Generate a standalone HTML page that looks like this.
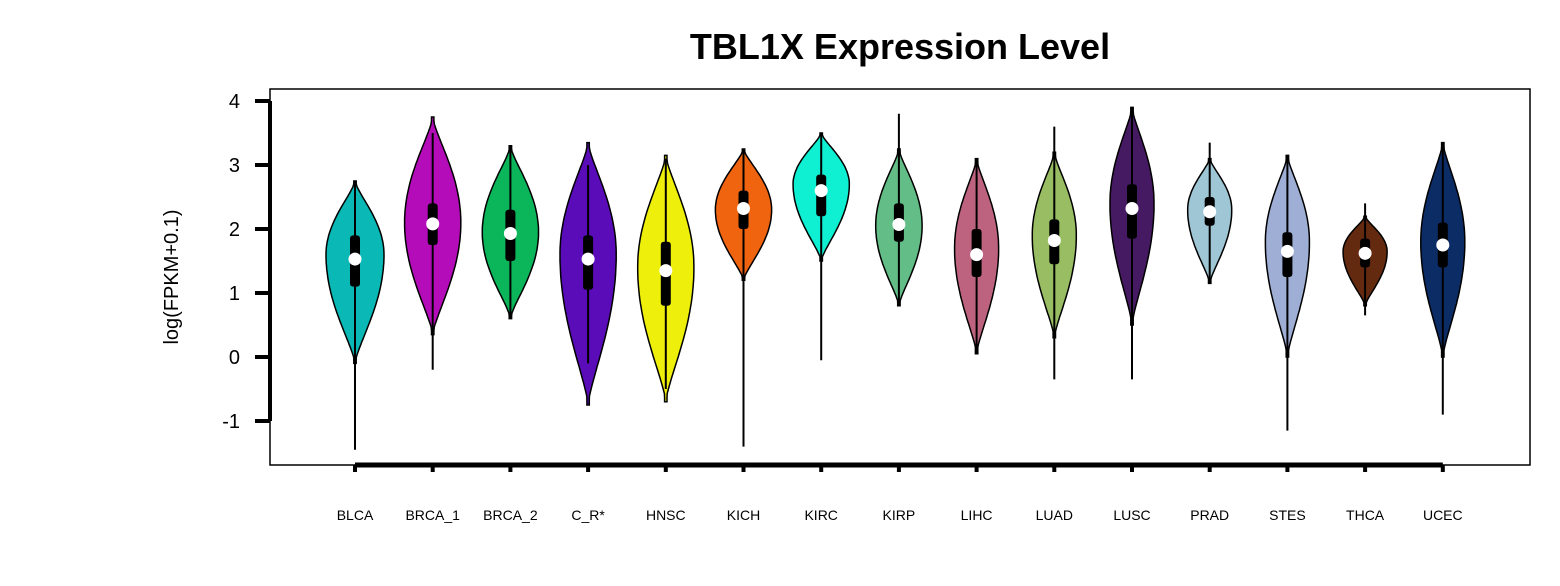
<!DOCTYPE html>
<html><head><meta charset="utf-8"><style>
body{margin:0;background:#fff;}
svg{display:block;font-family:"Liberation Sans",Arial,sans-serif;}
</style></head><body>
<svg id="chart" width="1560" height="586">
<text x="900" y="59" text-anchor="middle" font-size="36" font-weight="bold">TBL1X Expression Level</text>
<rect x="270" y="89" width="1260" height="376" fill="none" stroke="#000" stroke-width="1.5"/>
<text transform="translate(178,277) rotate(-90)" text-anchor="middle" font-size="20">log(FPKM+0.1)</text>
<g id="yaxis"></g>
<g id="xaxis"></g>
<g id="violins"></g>
</svg>
<script>
const categories=["BLCA","BRCA_1","BRCA_2","C_R*","HNSC","KICH","KIRC","KIRP","LIHC","LUAD","LUSC","PRAD","STES","THCA","UCEC"];
const colors=["#0ab8b5","#b40cb8","#0bb55a","#5a0cb8","#eef00c","#f0630f","#0ff0d2","#62bd86","#bd6380","#98bd62","#461a62","#9ec6d4","#9eaed4","#642a10","#0c2c66"];
const medians=[1.53,2.08,1.93,1.53,1.35,2.32,2.6,2.07,1.6,1.82,2.32,2.27,1.65,1.62,1.75];
const q1s=[1.1,1.75,1.5,1.05,0.8,2.0,2.2,1.8,1.25,1.45,1.85,2.05,1.25,1.4,1.4];
const q3s=[1.9,2.4,2.3,1.9,1.8,2.6,2.85,2.4,2.0,2.15,2.7,2.5,1.95,1.85,2.1];
const whiskerLo=[-1.45,-0.2,0.6,-0.1,-0.5,-1.4,-0.05,0.8,0.05,-0.35,-0.35,1.15,-1.15,0.65,-0.9];
const whiskerHi=[2.75,3.5,3.3,3.0,3.1,3.25,3.5,3.8,3.1,3.6,3.9,3.35,3.15,2.4,3.35];
const shapeTop=[2.75,3.75,3.3,3.35,3.15,3.25,3.5,3.25,3.1,3.2,3.9,3.1,3.15,2.2,3.35];
const shapeBottom=[-0.1,0.35,0.6,-0.75,-0.7,1.2,1.5,0.8,0.05,0.3,0.5,1.15,0.0,0.8,0.0];
const peaks=[1.6,2.1,1.95,1.6,1.4,2.3,2.7,2.05,1.7,1.9,2.4,2.3,1.8,1.65,1.8];
const density=[1.0,0.97,0.97,0.97,0.97,0.97,0.97,0.8,0.76,0.76,0.76,0.76,0.76,0.76,0.76];
const yTicks=[4,3,2,1,0,-1];
const NS="http://www.w3.org/2000/svg";
const y=v=>357-v*64;
const x=i=>355+i*77.7;
const MAXW=29;
function mk(tag,attrs,parent){const e=document.createElementNS(NS,tag);for(const k in attrs)e.setAttribute(k,attrs[k]);parent.appendChild(e);return e;}
const ya=document.getElementById('yaxis');
let l=mk('line',{x1:270,x2:270,y1:y(4),y2:y(-1),stroke:'#000','stroke-width':4},ya);


yTicks.forEach(t=>{
 const tk=mk('line',{x1:255,x2:270,y1:y(t),y2:y(t),stroke:'#000','stroke-width':4},ya);
 
 
 const tx=mk('text',{x:240,y:y(t)+7,'text-anchor':'end','font-size':20},ya);
 tx.textContent=t;
 
 
});
const xa=document.getElementById('xaxis');
l=mk('line',{x1:x(0),x2:x(categories.length-1),y1:465,y2:465,stroke:'#000','stroke-width':5},xa);


const vg=document.getElementById('violins');
categories.forEach((c,i)=>{
 const tk=mk('line',{x1:x(i),x2:x(i),y1:465,y2:472,stroke:'#000','stroke-width':4},xa);
 
 
 const tx=mk('text',{x:x(i),y:520,'text-anchor':'middle','font-size':14},xa);
 tx.textContent=c;
 
 
 const g=mk('g',{},vg);
 
 
 const cx=x(i),w=MAXW*density[i];
 const yt=y(shapeTop[i]),yb=y(shapeBottom[i]),yp=y(peaks[i]);
 const hw=yy=>{let t=yy<yp?(yp-yy)/(yp-yt):(yy-yp)/(yb-yp);t=Math.min(1,Math.max(0,t));return Math.max(1.2,w*Math.pow(1-Math.pow(t,2),1.4));};
 const pts=[];const N=60;
 for(let k=0;k<=N;k++){const yy=yt+(yb-yt)*k/N;pts.push([cx+hw(yy),yy]);}
 for(let k=N;k>=0;k--){const yy=yt+(yb-yt)*k/N;pts.push([cx-hw(yy),yy]);}
 mk('path',{d:'M'+pts.map(p=>p[0].toFixed(1)+','+p[1].toFixed(1)).join('L')+'Z',fill:colors[i],stroke:'#000','stroke-width':1.5},g);
 mk('line',{x1:cx,x2:cx,y1:y(whiskerLo[i]),y2:y(whiskerHi[i]),stroke:'#000','stroke-width':2},g);
 mk('rect',{x:cx-5,y:y(q3s[i]),width:10,height:y(q1s[i])-y(q3s[i]),rx:3,fill:'#000'},g);
 mk('circle',{cx:cx,cy:y(medians[i]),r:6.5,fill:'#fff'},g);
});
</script>
</body></html>
